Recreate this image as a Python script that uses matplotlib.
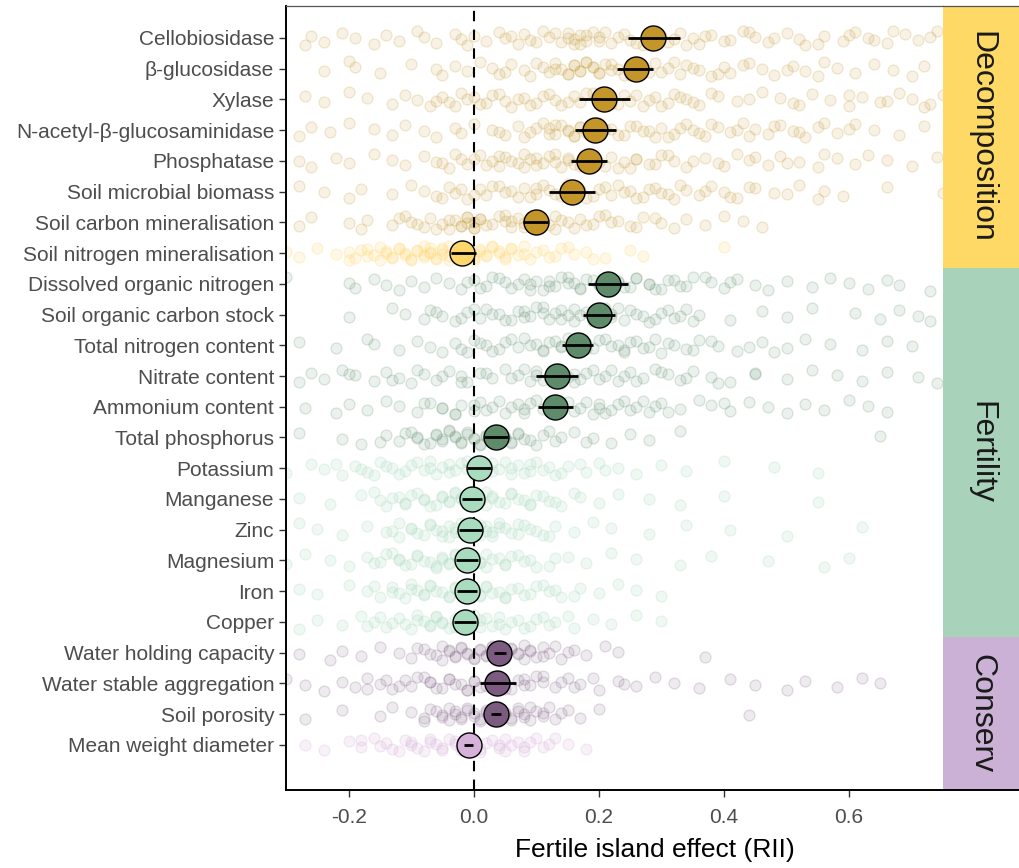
import numpy as np
import matplotlib
matplotlib.use("Agg")
import matplotlib.pyplot as plt
from matplotlib.patches import Rectangle

plt.rcParams['font.family'] = ['Liberation Sans', 'DejaVu Sans']

# variables, top to bottom
variables = ["Cellobiosidase", "β-glucosidase", "Xylase", "N-acetyl-β-glucosaminidase",
             "Phosphatase", "Soil microbial biomass", "Soil carbon mineralisation",
             "Soil nitrogen mineralisation", "Dissolved organic nitrogen",
             "Soil organic carbon stock", "Total nitrogen content", "Nitrate content",
             "Ammonium content", "Total phosphorus", "Potassium", "Manganese", "Zinc",
             "Magnesium", "Iron", "Copper", "Water holding capacity",
             "Water stable aggregation", "Soil porosity", "Mean weight diameter"]
groups = ["Decomposition"] * 8 + ["Fertility"] * 12 + ["Conserv"] * 4
significant = [1, 1, 1, 1, 1, 1, 1, 0,
               1, 1, 1, 1, 1, 1, 0, 0, 0, 0, 0, 0,
               1, 1, 1, 0]

# mean RII and 95% CI
mean_rii = [0.287, 0.259, 0.208, 0.194, 0.184, 0.157, 0.099, -0.018,
            0.214, 0.200, 0.166, 0.133, 0.130, 0.035, 0.008, -0.003, -0.006,
            -0.011, -0.010, -0.014, 0.041, 0.038, 0.035, -0.008]
ci_low = [0.246, 0.229, 0.169, 0.162, 0.156, 0.121, 0.078, -0.036,
          0.183, 0.174, 0.141, 0.100, 0.102, 0.017, -0.011, -0.019, -0.024,
          -0.028, -0.026, -0.031, 0.032, 0.010, 0.027, -0.016]
ci_high = [0.330, 0.287, 0.249, 0.227, 0.213, 0.194, 0.119, 0.003,
           0.246, 0.225, 0.191, 0.166, 0.159, 0.054, 0.027, 0.014, 0.013,
           0.007, 0.006, 0.003, 0.051, 0.068, 0.043, -0.001]

obs = {
    "Cellobiosidase": [-0.27, -0.26, -0.24, -0.21, -0.19, -0.16, -0.14, -0.12, -0.09, -0.08,
                       -0.06, -0.03, -0.02, -0.01, 0.0, 0.02, 0.04, 0.05, 0.07, 0.08, 0.09,
                       0.11, 0.12, 0.14, 0.15, 0.16, 0.16, 0.17, 0.18, 0.19, 0.2, 0.22, 0.24,
                       0.25, 0.27, 0.3, 0.31, 0.33, 0.35, 0.36, 0.38, 0.41, 0.43, 0.45, 0.47,
                       0.5, 0.52, 0.53, 0.56, 0.59, 0.61, 0.63, 0.66, 0.69, 0.71, 0.74],
    "β-glucosidase": [-0.24, -0.2, -0.19, -0.15, -0.1, -0.06, -0.05, -0.03, -0.01, 0.01,
                      0.03, 0.04, 0.06, 0.08, 0.09, 0.11, 0.12, 0.13, 0.14, 0.15, 0.16, 0.17,
                      0.18, 0.19, 0.2, 0.21, 0.22, 0.24, 0.26, 0.28, 0.29, 0.31, 0.33, 0.34,
                      0.36, 0.38, 0.4, 0.41, 0.44, 0.46, 0.48, 0.51, 0.53, 0.56, 0.58, 0.61,
                      0.64, 0.67, 0.7, 0.72],
    "Xylase": [-0.27, -0.24, -0.2, -0.17, -0.13, -0.11, -0.09, -0.07, -0.05, -0.04, -0.02,
               -0.01, 0.01, 0.03, 0.05, 0.06, 0.08, 0.1, 0.12, 0.13, 0.14, 0.16, 0.17, 0.19,
               0.2, 0.22, 0.24, 0.25, 0.27, 0.29, 0.31, 0.32, 0.34, 0.36, 0.39, 0.42, 0.46,
               0.49, 0.51, 0.54, 0.57, 0.6, 0.62, 0.65, 0.68, 0.7, 0.73, 0.75],
    "N-acetyl-β-glucosaminidase": [-0.28, -0.26, -0.23, -0.2, -0.16, -0.13, -0.11, -0.08,
                                   -0.06, -0.03, -0.02, 0.0, 0.03, 0.05, 0.07, 0.09, 0.11,
                                   0.12, 0.13, 0.14, 0.15, 0.16, 0.17, 0.18, 0.2, 0.21, 0.23,
                                   0.25, 0.27, 0.29, 0.3, 0.32, 0.34, 0.35, 0.37, 0.39, 0.41,
                                   0.43, 0.45, 0.47, 0.49, 0.51, 0.53, 0.55, 0.58, 0.61,
                                   0.64, 0.68, 0.72],
    "Phosphatase": [-0.28, -0.26, -0.22, -0.2, -0.16, -0.13, -0.11, -0.08, -0.06, -0.04,
                    -0.02, -0.01, 0.01, 0.03, 0.04, 0.05, 0.07, 0.08, 0.09, 0.1, 0.12, 0.13,
                    0.14, 0.15, 0.16, 0.18, 0.19, 0.21, 0.22, 0.24, 0.25, 0.26, 0.28, 0.3,
                    0.32, 0.34, 0.37, 0.39, 0.42, 0.44, 0.47, 0.49, 0.52, 0.55, 0.58, 0.61,
                    0.63, 0.66, 0.7, 0.74],
    "Soil microbial biomass": [-0.28, -0.24, -0.2, -0.18, -0.13, -0.1, -0.08, -0.06, -0.04,
                               -0.03, -0.01, 0.01, 0.02, 0.04, 0.05, 0.07, 0.08, 0.1, 0.11,
                               0.12, 0.14, 0.16, 0.17, 0.18, 0.2, 0.22, 0.23, 0.25, 0.27,
                               0.29, 0.3, 0.32, 0.34, 0.36, 0.38, 0.4, 0.42, 0.45, 0.5,
                               0.52, 0.56, 0.59, 0.66, 0.75],
    "Soil carbon mineralisation": [-0.28, -0.26, -0.2, -0.18, -0.17, -0.13, -0.11, -0.1,
                                   -0.08, -0.07, -0.05, -0.04, -0.03, -0.02, -0.01, -0.01,
                                   0.0, 0.01, 0.02, 0.04, 0.05, 0.06, 0.07, 0.08, 0.1, 0.11,
                                   0.12, 0.13, 0.15, 0.16, 0.17, 0.19, 0.21, 0.23, 0.25,
                                   0.27, 0.3, 0.32, 0.34, 0.37, 0.4, 0.43, 0.46],
    "Soil nitrogen mineralisation": [-0.3, -0.28, -0.25, -0.22, -0.2, -0.18, -0.17, -0.15,
                                     -0.14, -0.13, -0.12, -0.11, -0.1, -0.09, -0.08, -0.07,
                                     -0.07, -0.06, -0.05, -0.04, -0.04, -0.03, -0.02, -0.01,
                                     0.0, 0.0, 0.01, 0.02, 0.03, 0.04, 0.05, 0.06, 0.07,
                                     0.08, 0.1, 0.12, 0.14, 0.16, 0.19, 0.25, 0.27, 0.4],
    "Dissolved organic nitrogen": [-0.3, -0.2, -0.19, -0.16, -0.14, -0.12, -0.1, -0.08,
                                   -0.06, -0.04, -0.02, 0.0, 0.02, 0.03, 0.05, 0.06, 0.08,
                                   0.09, 0.11, 0.12, 0.13, 0.15, 0.16, 0.17, 0.19, 0.2, 0.22,
                                   0.23, 0.25, 0.26, 0.28, 0.29, 0.31, 0.33, 0.35, 0.38, 0.4,
                                   0.42, 0.45, 0.47, 0.5, 0.54, 0.57, 0.6, 0.63, 0.66, 0.68,
                                   0.73],
    "Soil organic carbon stock": [-0.2, -0.13, -0.11, -0.08, -0.07, -0.05, -0.03, -0.01,
                                  0.01, 0.02, 0.04, 0.05, 0.07, 0.08, 0.1, 0.11, 0.12, 0.14,
                                  0.15, 0.16, 0.18, 0.19, 0.21, 0.22, 0.24, 0.25, 0.27, 0.28,
                                  0.3, 0.32, 0.34, 0.36, 0.41, 0.46, 0.5, 0.54, 0.61, 0.65,
                                  0.68, 0.71, 0.73],
    "Total nitrogen content": [-0.28, -0.22, -0.17, -0.16, -0.12, -0.09, -0.07, -0.05,
                               -0.03, -0.02, 0.0, 0.02, 0.03, 0.05, 0.07, 0.08, 0.1, 0.11,
                               0.13, 0.14, 0.16, 0.18, 0.19, 0.21, 0.23, 0.24, 0.26, 0.28,
                               0.3, 0.31, 0.34, 0.36, 0.39, 0.42, 0.46, 0.5, 0.53, 0.57,
                               0.62, 0.66, 0.7],
    "Nitrate content": [-0.28, -0.26, -0.24, -0.21, -0.19, -0.16, -0.14, -0.12, -0.1, -0.08,
                        -0.06, -0.04, -0.02, -0.01, 0.01, 0.03, 0.05, 0.07, 0.09, 0.1, 0.12,
                        0.14, 0.16, 0.17, 0.19, 0.21, 0.23, 0.25, 0.27, 0.29, 0.31, 0.33,
                        0.35, 0.38, 0.41, 0.45, 0.5, 0.54, 0.58, 0.62, 0.66, 0.71, 0.74],
    "Ammonium content": [-0.27, -0.22, -0.2, -0.17, -0.14, -0.12, -0.09, -0.07, -0.05,
                         -0.03, -0.02, 0.0, 0.01, 0.03, 0.05, 0.07, 0.08, 0.1, 0.12, 0.13,
                         0.15, 0.17, 0.19, 0.2, 0.22, 0.24, 0.26, 0.28, 0.3, 0.33, 0.36,
                         0.38, 0.41, 0.44, 0.47, 0.5, 0.53, 0.56, 0.6, 0.63, 0.66],
    "Total phosphorus": [-0.28, -0.21, -0.18, -0.14, -0.12, -0.1, -0.09, -0.07, -0.06,
                         -0.05, -0.04, -0.03, -0.02, -0.01, 0.0, 0.01, 0.02, 0.03, 0.04,
                         0.05, 0.06, 0.07, 0.08, 0.1, 0.11, 0.13, 0.16, 0.19, 0.22, 0.25,
                         0.28, 0.33, 0.65],
    "Potassium": [-0.3, -0.26, -0.24, -0.21, -0.19, -0.17, -0.15, -0.13, -0.12, -0.1,
                  -0.08, -0.07, -0.05, -0.04, -0.02, -0.01, 0.0, 0.02, 0.03, 0.05, 0.06,
                  0.08, 0.09, 0.11, 0.13, 0.15, 0.18, 0.2, 0.23, 0.26, 0.3, 0.34, 0.4,
                  0.48, 0.55],
    "Manganese": [-0.28, -0.23, -0.18, -0.15, -0.14, -0.12, -0.11, -0.09, -0.08, -0.06,
                  -0.05, -0.04, -0.03, -0.02, -0.01, 0.0, 0.01, 0.02, 0.03, 0.04, 0.06,
                  0.07, 0.09, 0.1, 0.12, 0.14, 0.17, 0.2, 0.23, 0.28, 0.33, 0.4, 0.55],
    "Zinc": [-0.28, -0.25, -0.21, -0.17, -0.13, -0.12, -0.1, -0.09, -0.07, -0.06, -0.05,
             -0.04, -0.03, -0.02, -0.01, 0.0, 0.01, 0.02, 0.03, 0.04, 0.06, 0.07, 0.09, 0.11,
             0.13, 0.16, 0.19, 0.22, 0.28, 0.34, 0.41, 0.5, 0.62],
    "Magnesium": [-0.3, -0.27, -0.23, -0.2, -0.17, -0.15, -0.13, -0.12, -0.1, -0.09, -0.08,
                  -0.06, -0.05, -0.04, -0.03, -0.02, -0.01, 0.0, 0.01, 0.02, 0.04, 0.05,
                  0.07, 0.09, 0.12, 0.15, 0.18, 0.22, 0.26, 0.33, 0.38, 0.47, 0.56, 0.6],
    "Iron": [-0.28, -0.25, -0.2, -0.17, -0.15, -0.13, -0.12, -0.1, -0.09, -0.08, -0.07,
             -0.05, -0.04, -0.03, -0.02, -0.01, 0.0, 0.01, 0.02, 0.03, 0.05, 0.06, 0.08,
             0.1, 0.12, 0.14, 0.17, 0.2, 0.23, 0.26, 0.3],
    "Copper": [-0.28, -0.25, -0.21, -0.18, -0.16, -0.14, -0.12, -0.11, -0.09, -0.08, -0.07,
               -0.06, -0.05, -0.04, -0.03, -0.02, -0.01, 0.0, 0.01, 0.02, 0.04, 0.05, 0.07,
               0.09, 0.11, 0.13, 0.16, 0.19, 0.22, 0.26, 0.3],
    "Water holding capacity": [-0.28, -0.23, -0.21, -0.18, -0.15, -0.12, -0.1, -0.08,
                               -0.06, -0.05, -0.04, -0.03, -0.02, -0.01, 0.0, 0.01, 0.02,
                               0.03, 0.04, 0.05, 0.06, 0.07, 0.08, 0.09, 0.1, 0.11, 0.12,
                               0.14, 0.16, 0.18, 0.21, 0.23, 0.37],
    "Water stable aggregation": [-0.3, -0.27, -0.24, -0.21, -0.19, -0.17, -0.15, -0.13,
                                 -0.11, -0.1, -0.08, -0.07, -0.05, -0.04, -0.02, -0.01,
                                 0.0, 0.01, 0.03, 0.04, 0.05, 0.07, 0.08, 0.1, 0.11, 0.13,
                                 0.15, 0.17, 0.2, 0.23, 0.26, 0.29, 0.32, 0.36, 0.41, 0.45,
                                 0.5, 0.53, 0.58, 0.62, 0.65],
    "Soil porosity": [-0.27, -0.21, -0.15, -0.13, -0.1, -0.08, -0.07, -0.05, -0.04, -0.03,
                      -0.02, -0.01, 0.0, 0.01, 0.02, 0.03, 0.04, 0.05, 0.06, 0.07, 0.08,
                      0.09, 0.1, 0.11, 0.12, 0.14, 0.17, 0.2, 0.44],
    "Mean weight diameter": [-0.27, -0.24, -0.2, -0.18, -0.16, -0.14, -0.13, -0.11, -0.1,
                             -0.08, -0.07, -0.05, -0.04, -0.03, -0.02, -0.01, 0.0, 0.01,
                             0.02, 0.04, 0.05, 0.06, 0.08, 0.09, 0.11, 0.13, 0.15, 0.18],
}

# individual observations: the dense core of each row
obs_core = {
    "Cellobiosidase": [0.06, 0.1, 0.13, 0.15, 0.17, 0.18, 0.2, 0.21, 0.23, 0.26, 0.28, 0.32,
                       0.34, 0.37, 0.4, 0.44, 0.48, 0.55, 0.6, 0.64, 0.67, 0.73],
    "β-glucosidase": [0.05, 0.1, 0.13, 0.15, 0.16, 0.17, 0.18, 0.19, 0.2, 0.22, 0.23, 0.25,
                      0.27, 0.3, 0.32, 0.35, 0.39, 0.43, 0.5, 0.55],
    "Xylase": [-0.06, -0.03, 0.0, 0.02, 0.04, 0.07, 0.09, 0.11, 0.15, 0.18, 0.21, 0.23, 0.26,
               0.28, 0.3, 0.33, 0.35, 0.38, 0.44, 0.52, 0.6, 0.66, 0.72],
    "N-acetyl-β-glucosaminidase": [0.04, 0.08, 0.1, 0.12, 0.13, 0.15, 0.16, 0.17, 0.19, 0.2,
                                   0.22, 0.24, 0.26, 0.28, 0.31, 0.33, 0.36, 0.38, 0.42,
                                   0.44, 0.48, 0.52, 0.56, 0.6],
    "Phosphatase": [-0.05, -0.03, 0.0, 0.02, 0.04, 0.06, 0.08, 0.1, 0.11, 0.13, 0.15, 0.17,
                    0.18, 0.2, 0.23, 0.26, 0.29, 0.31, 0.35, 0.4, 0.45, 0.5, 0.56],
    "Soil microbial biomass": [-0.05, -0.02, 0.0, 0.03, 0.06, 0.09, 0.1, 0.13, 0.15, 0.17,
                               0.19, 0.21, 0.24, 0.26, 0.28, 0.31, 0.33, 0.37, 0.41, 0.44,
                               0.48, 0.55],
    "Soil carbon mineralisation": [-0.12, -0.09, -0.06, -0.04, -0.02, -0.01, 0.0, 0.0, 0.01,
                                   0.03, 0.05, 0.06, 0.08, 0.09, 0.11, 0.13, 0.14, 0.18,
                                   0.2, 0.22, 0.26, 0.29],
    "Soil nitrogen mineralisation": [-0.2, -0.19, -0.17, -0.16, -0.15, -0.14, -0.13, -0.12,
                                     -0.11, -0.1, -0.09, -0.08, -0.08, -0.07, -0.06, -0.05,
                                     -0.05, -0.04, -0.03, -0.02, -0.02, -0.01, 0.0, 0.01,
                                     0.02, 0.03, 0.04, 0.05, 0.06, 0.08, 0.09, 0.11, 0.13,
                                     0.15, 0.18, 0.21],
    "Dissolved organic nitrogen": [-0.01, 0.01, 0.04, 0.07, 0.09, 0.1, 0.12, 0.14, 0.15,
                                   0.17, 0.18, 0.2, 0.21, 0.23, 0.24, 0.26, 0.28, 0.3, 0.32,
                                   0.34, 0.37, 0.41],
    "Soil organic carbon stock": [-0.06, -0.02, 0.0, 0.03, 0.06, 0.08, 0.09, 0.11, 0.13,
                                  0.14, 0.16, 0.17, 0.19, 0.2, 0.22, 0.23, 0.26, 0.29, 0.31,
                                  0.33, 0.35],
    "Total nitrogen content": [-0.01, 0.01, 0.04, 0.06, 0.09, 0.11, 0.12, 0.14, 0.15, 0.17,
                               0.18, 0.2, 0.22, 0.24, 0.25, 0.27, 0.29, 0.32, 0.35, 0.38,
                               0.44, 0.48],
    "Nitrate content": [-0.2, -0.13, -0.09, -0.05, -0.02, 0.02, 0.06, 0.08, 0.1, 0.11, 0.13,
                        0.15, 0.16, 0.18, 0.2, 0.22, 0.24, 0.26, 0.3, 0.34, 0.39, 0.45],
    "Ammonium content": [-0.08, -0.05, -0.03, 0.0, 0.02, 0.04, 0.06, 0.08, 0.09, 0.11, 0.13,
                         0.14, 0.16, 0.18, 0.2, 0.21, 0.23, 0.25, 0.27, 0.29, 0.31, 0.4],
    "Total phosphorus": [-0.15, -0.11, -0.09, -0.08, -0.06, -0.05, -0.04, -0.03, -0.02,
                         -0.01, 0.0, 0.01, 0.02, 0.03, 0.04, 0.05, 0.06, 0.07, 0.09, 0.12,
                         0.14, 0.18],
    "Potassium": [-0.22, -0.18, -0.16, -0.14, -0.11, -0.09, -0.07, -0.06, -0.04, -0.03,
                  -0.01, 0.0, 0.01, 0.03, 0.04, 0.06, 0.07, 0.09, 0.1, 0.12, 0.14, 0.17,
                  0.21],
    "Manganese": [-0.16, -0.13, -0.11, -0.1, -0.08, -0.07, -0.05, -0.04, -0.03, -0.02, -0.01,
                  0.0, 0.01, 0.02, 0.03, 0.05, 0.06, 0.08, 0.09, 0.11, 0.13, 0.16],
    "Zinc": [-0.14, -0.12, -0.1, -0.08, -0.07, -0.05, -0.04, -0.03, -0.02, -0.01, 0.0, 0.01,
             0.02, 0.03, 0.04, 0.05, 0.07, 0.08, 0.1, 0.12],
    "Magnesium": [-0.16, -0.14, -0.12, -0.11, -0.09, -0.07, -0.06, -0.05, -0.04, -0.03,
                  -0.02, -0.01, 0.0, 0.01, 0.02, 0.03, 0.05, 0.06, 0.08, 0.1, 0.13],
    "Iron": [-0.16, -0.13, -0.11, -0.1, -0.08, -0.07, -0.06, -0.04, -0.03, -0.02, -0.01, 0.0,
             0.01, 0.02, 0.04, 0.05, 0.07, 0.09, 0.11, 0.13, 0.16],
    "Copper": [-0.17, -0.15, -0.13, -0.1, -0.09, -0.07, -0.06, -0.05, -0.03, -0.02, -0.01,
               0.0, 0.01, 0.03, 0.04, 0.06, 0.08, 0.1, 0.12, 0.15],
    "Water holding capacity": [-0.09, -0.07, -0.05, -0.04, -0.03, -0.02, -0.01, 0.0, 0.01,
                               0.02, 0.03, 0.04, 0.05, 0.06, 0.07, 0.08, 0.09, 0.11, 0.13,
                               0.15],
    "Water stable aggregation": [-0.17, -0.14, -0.12, -0.09, -0.07, -0.06, -0.04, -0.03,
                                 -0.01, 0.0, 0.02, 0.03, 0.05, 0.06, 0.08, 0.09, 0.11, 0.14,
                                 0.16, 0.19, 0.24],
    "Soil porosity": [-0.08, -0.06, -0.05, -0.04, -0.03, -0.02, -0.01, 0.0, 0.01, 0.02, 0.03,
                      0.04, 0.05, 0.06, 0.07, 0.08, 0.09, 0.11, 0.13, 0.15],
    "Mean weight diameter": [-0.18, -0.15, -0.12, -0.1, -0.09, -0.07, -0.06, -0.05, -0.03,
                             -0.02, -0.01, 0.0, 0.01, 0.03, 0.04, 0.05, 0.07, 0.08, 0.1,
                             0.12],
}

group_names = ["Decomposition", "Fertility", "Conserv"]
dark_cols = {"Decomposition": "#C4962A", "Fertility": "#5E8C6A", "Conserv": "#7B5B80"}
light_cols = {"Decomposition": "#FFD66B", "Fertility": "#A9DBBE", "Conserv": "#D6B1DA"}
strip_cols = {"Decomposition": "#FFD966", "Fertility": "#A8D3BA", "Conserv": "#CBB1D6"}

n = len(variables)
ypos = np.arange(n, 0, -1)
ylim = (-0.47, 25.04)

fig = plt.figure(figsize=(10.19, 8.68), dpi=100)
ax = fig.add_axes([286/1019, 1-790/868, (943-286)/1019, (790-6)/868])
sax = fig.add_axes([943/1019, 1-790/868, 76/1019, (790-6)/868])

for i, v in enumerate(variables):
    col = dark_cols[groups[i]] if significant[i] else light_cols[groups[i]]
    xs = np.array(obs[v] + obs_core[v])
    k = np.arange(len(xs))
    # fixed vertical offsets so the points of one row do not sit on one line
    jit = 0.24 * (((k * 0.6180339 + i * 0.37) % 1.0) * 2 - 1)
    rgb = matplotlib.colors.to_rgb(col)
    fa = 0.12 if significant[i] else 0.17
    ax.scatter(xs, ypos[i] + jit, s=62, facecolor=rgb + (fa,),
               edgecolor=rgb + (fa + 0.09,), linewidth=0.9, zorder=1)

ax.axvline(0, color="black", linestyle=(0, (5, 4)), linewidth=1.5, zorder=2)

for i, v in enumerate(variables):
    col = dark_cols[groups[i]] if significant[i] else light_cols[groups[i]]
    ax.plot(mean_rii[i], ypos[i], 'o', ms=18, mfc=col, mec="black", mew=1.0, zorder=3)
    ax.plot([ci_low[i], ci_high[i]], [ypos[i], ypos[i]], color="black", lw=2.0,
            solid_capstyle="butt", zorder=4)

ax.set_xlim(-0.3, 0.75)
ax.set_ylim(*ylim)
ax.set_xticks([-0.2, 0.0, 0.2, 0.4, 0.6])
ax.set_xticklabels(["-0.2", "0.0", "0.2", "0.4", "0.6"])
ax.set_yticks(ypos)
ax.set_yticklabels(variables)
ax.tick_params(axis="both", labelsize=15, labelcolor="#4D4D4D", color="#333333",
               length=5, width=1.0)
ax.tick_params(axis="x", pad=8)
for s in ["left", "bottom"]:
    ax.spines[s].set_linewidth(1.4)
ax.spines["right"].set_visible(False)
ax.spines["top"].set_color("#555555")
ax.spines["top"].set_linewidth(0.9)

# group strips
bounds = {"Decomposition": (16.5, ylim[1]), "Fertility": (4.5, 16.5), "Conserv": (ylim[0], 4.5)}
sax.set_xlim(0, 1)
sax.set_ylim(*ylim)
for g in group_names:
    lo, hi = bounds[g]
    sax.add_patch(Rectangle((0, lo), 1, hi - lo, facecolor=strip_cols[g], edgecolor="none"))
    sax.text(0.5, (lo + hi) / 2, g, rotation=-90, ha="center", va="center", fontsize=23,
             color="#1A1A1A", family=["Liberation Sans Narrow", "Liberation Sans", "DejaVu Sans"])
sax.set_xticks([])
sax.set_yticks([])
for s in ["left", "right"]:
    sax.spines[s].set_visible(False)
sax.spines["bottom"].set_linewidth(1.4)
sax.spines["top"].set_color("#555555")
sax.spines["top"].set_linewidth(0.9)

fig.text(655/1019, 1-850/868, "Fertile island effect (RII)", ha="center", va="center",
         fontsize=19, color="black")

fig.savefig("out.png", dpi=100)
